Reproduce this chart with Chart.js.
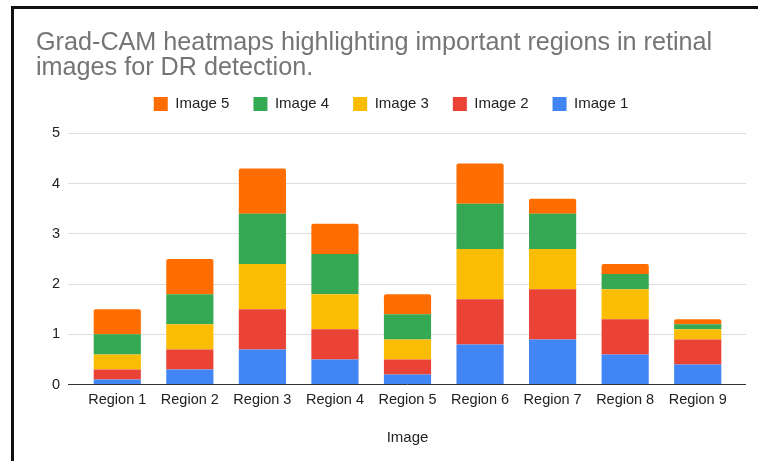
<!DOCTYPE html>
<html>
<head>
<meta charset="utf-8">
<script src="https://cdn.jsdelivr.net/npm/chart.js@4/dist/chart.umd.min.js"></script>
<style>
  html, body { margin: 0; padding: 0; background: #fff; }
  #wrap { position: relative; width: 758px; height: 461px; overflow: hidden; }
  #frame {
    position: absolute; left: 11px; top: 6px; right: -10px; bottom: -10px;
    border-left: 3px solid #111; border-top: 3px solid #111;
  }
  #regionChart { position: absolute; left: 0; top: 0; }
</style>
</head>
<body>
<div id="wrap">
  <div id="frame"></div>
  <canvas id="regionChart" width="758" height="461"></canvas>
</div>
<script>
const regions = ['Region 1', 'Region 2', 'Region 3', 'Region 4', 'Region 5', 'Region 6', 'Region 7', 'Region 8', 'Region 9'];
const image1 = [0.1, 0.3, 0.7, 0.5, 0.2, 0.8, 0.9, 0.6, 0.4];
const image2 = [0.2, 0.4, 0.8, 0.6, 0.3, 0.9, 1.0, 0.7, 0.5];
const image3 = [0.3, 0.5, 0.9, 0.7, 0.4, 1.0, 0.8, 0.6, 0.2];
const image4 = [0.4, 0.6, 1.0, 0.8, 0.5, 0.9, 0.7, 0.3, 0.1];
const image5 = [0.5, 0.7, 0.9, 0.6, 0.4, 0.8, 0.3, 0.2, 0.1];
const yTicks = [0, 1, 2, 3, 4, 5];

const font = "'Liberation Sans', Arial, sans-serif";

function bars(label, data, color, top) {
  return {
    label: label,
    data: data,
    backgroundColor: color,
    borderWidth: 0,
    borderRadius: top ? { topLeft: 2, topRight: 2 } : 0,
    borderSkipped: false,
    categoryPercentage: 1,
    barPercentage: 0.65
  };
}

const gridColor = ctx => (ctx.tick && ctx.tick.value === 0) ? '#333333' : '#dddddd';

// extra room under the legend
const legendGap = {
  id: 'legendGap',
  beforeInit(chart) {
    const fit = chart.legend.fit;
    chart.legend.fit = function () {
      fit.bind(chart.legend)();
      this.height += 12;
    };
  }
};

new Chart(document.getElementById('regionChart'), {
  type: 'bar',
  data: {
    labels: regions,
    datasets: [
      bars('Image 1', image1, '#4285F4'),
      bars('Image 2', image2, '#EA4335'),
      bars('Image 3', image3, '#FBBC04'),
      bars('Image 4', image4, '#34A853'),
      bars('Image 5', image5, '#FF6D01', true)
    ]
  },
  plugins: [legendGap],
  options: {
    responsive: false,
    animation: false,
    devicePixelRatio: 1,
    layout: { padding: { left: 36, right: 12, top: 0, bottom: 14 } },
    plugins: {
      tooltip: { enabled: false },
      title: {
        display: true,
        align: 'start',
        text: ['Grad-CAM heatmaps highlighting important regions in retinal', 'images for DR detection.'],
        color: '#757575',
        font: { family: font, size: 25.2, weight: 'normal', lineHeight: 1.0 },
        padding: { top: 30, bottom: -8 }
      },
      legend: {
        position: 'top',
        reverse: true,
        labels: {
          boxWidth: 14,
          boxHeight: 14,
          padding: 24,
          color: '#222222',
          font: { family: font, size: 15 }
        }
      }
    },
    scales: {
      x: {
        stacked: true,
        grid: { display: false, drawTicks: false },
        border: { display: false },
        ticks: { color: '#222222', padding: 7, font: { family: font, size: 14.5 }, maxRotation: 0 },
        title: { display: true, text: 'Image', color: '#222222', font: { family: font, size: 15 }, padding: { top: 13, bottom: 0 } }
      },
      y: {
        stacked: true,
        min: yTicks[0],
        max: yTicks[yTicks.length - 1],
        afterBuildTicks: s => { s.ticks = yTicks.map(v => ({ value: v })); },
        afterFit: s => { s.width = 45; },
        grid: { color: gridColor, tickColor: gridColor, tickLength: 13 },
        border: { display: false },
        ticks: { color: '#222222', padding: 8, font: { family: font, size: 14.5 } }
      },
      y2: {
        position: 'right',
        min: yTicks[0],
        max: yTicks[yTicks.length - 1],
        afterBuildTicks: s => { s.ticks = yTicks.map(v => ({ value: v })); },
        afterFit: s => { s.width = 12; },
        grid: { drawOnChartArea: false, color: gridColor, tickColor: gridColor, tickLength: 12 },
        border: { display: false },
        ticks: { display: false }
      }
    }
  }
});
</script>
</body>
</html>
